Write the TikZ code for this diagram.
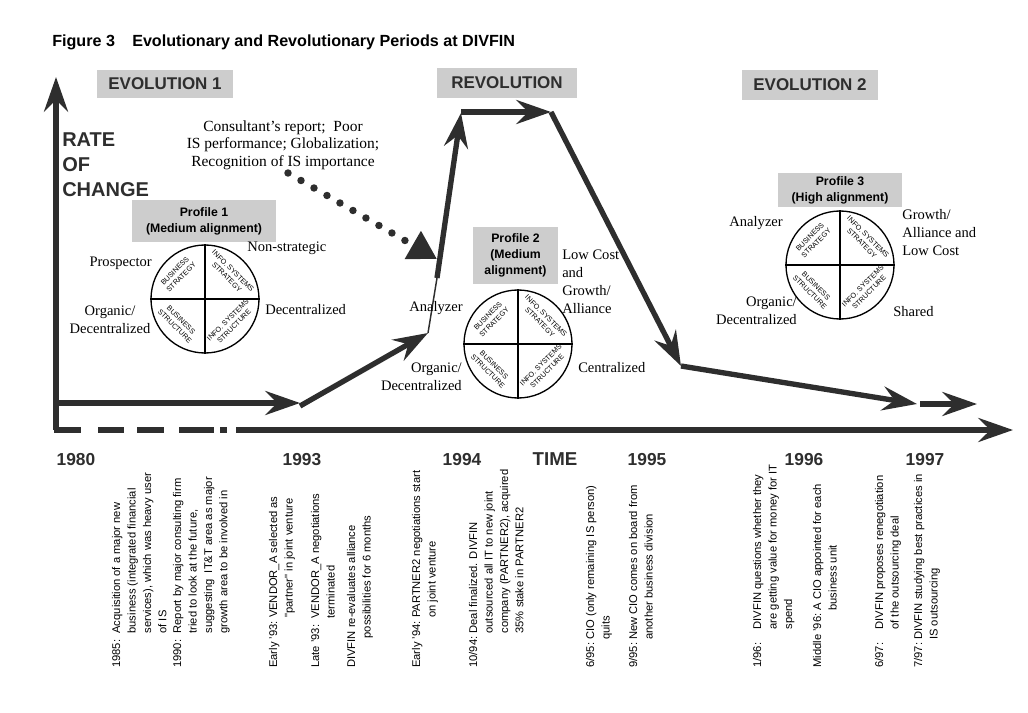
\documentclass[tikz,border=0pt]{standalone}
\usepackage{fontspec}
\setmainfont{Liberation Serif}
\newfontfamily\arial{Liberation Sans}
\usetikzlibrary{arrows.meta}
\definecolor{ink}{HTML}{2E2E2E}
\definecolor{boxgray}{HTML}{CDCDCD}
\begin{document}
\begin{tikzpicture}[x=0.75pt,y=-0.75pt,
  big/.style={draw=ink,line width=4pt,-{Stealth[length=26pt,width=18pt,inset=9pt]}},
  axisline/.style={draw=ink,line width=4pt},
  thinline/.style={draw=ink,line width=1.1pt},
  serif/.style={font=\fontsize{10.9}{13.5}\selectfont,inner sep=0pt},
  period/.style={fill=boxgray,font=\arial\bfseries\fontsize{12.75}{15}\selectfont,text=ink,inner sep=0pt},
  profbox/.style={fill=boxgray,font=\arial\bfseries\fontsize{9.2}{12}\selectfont,align=center,inner sep=0pt},
  year/.style={font=\arial\bfseries\fontsize{13}{15}\selectfont,text=ink,inner sep=0pt},
  quad/.style={font=\arial\fontsize{5.4}{6.6}\selectfont,align=center,inner sep=0pt},
  wheel/.style={circle,draw=black,line width=1pt,minimum size=81pt,inner sep=0pt},
  evt/.style={rotate=90,anchor=north west,inner sep=0pt,font=\arial\fontsize{8.4}{11.6}\selectfont},
  bigsans/.style={font=\arial\bfseries\fontsize{15}{18.8}\selectfont,text=ink,align=left,inner sep=0pt}
]
\useasboundingbox (0,0) rectangle (1028,713);

% title
\node[font=\arial\bfseries\fontsize{12.1}{13}\selectfont,anchor=west,inner sep=0] (fig) at (52,42) {Figure 3};
\node[font=\arial\bfseries\fontsize{12.1}{13}\selectfont,anchor=west,inner sep=0] (title) at (132,42) {Evolutionary and Revolutionary Periods at DIVFIN};

% period boxes
\node[period,minimum width=102pt,minimum height=21pt] (ev1) at (165,84) {EVOLUTION 1};
\node[period,minimum width=105pt,minimum height=22.5pt] (rev) at (507,83) {REVOLUTION};
\node[period,minimum width=102pt,minimum height=22.5pt] (ev2) at (810,85) {EVOLUTION 2};

% axis label
\node[bigsans,anchor=north west] (rate) at (62,132) {RATE\\OF\\CHANGE};

% axes
\coordinate (o) at (56,430);
\coordinate (ytop) at (56,77);
\coordinate (xd) at (236,430);
\coordinate (xtip) at (1013,430);
\draw[big] (o) -- (ytop);
\draw[axisline,dash pattern=on 20.25pt off 12.75pt on 19.5pt off 9.75pt on 20.25pt off 11.25pt on 26.25pt off 4.5pt on 5.25pt off 100pt] ([xshift=-1.5pt]o) -- (xd);
\draw[big] (xd) -- (xtip);

% main path
\coordinate (a0) at (56,403);
\coordinate (a1) at (300,403);
\coordinate (a2) at (300,406);
\coordinate (a3) at (428,333);
\coordinate (a4) at (437,278);
\coordinate (a5) at (461,113);
\coordinate (a6) at (461,112);
\coordinate (a7) at (551,112);
\coordinate (a8) at (681,366);
\coordinate (a9) at (917,404);
\coordinate (a10) at (920,404);
\coordinate (a11) at (977,404);
\draw[big] (a0) -- (a1);
\draw[big] (a2) -- (a3);
\draw[thinline] (a3) -- (a4);
\draw[big] (a4) -- (a5);
\draw[big] (a6) -- (a7);
\draw[big] (a7) -- (a8);
\draw[big] (a8) -- (a9);
\draw[big] (a10) -- (a11);

% consultant text and dotted arrow
\node[font=\fontsize{11.6}{13.1}\selectfont,align=center,inner sep=0] (cons) at (283,145) {Consultant’s report;\ \ Poor\\IS performance; Globalization;\\Recognition of IS importance};
\coordinate (d0) at (288,173);
\coordinate (d1) at (437,259);
\draw[draw=ink,line width=5.6pt,line cap=round,dash pattern=on 0pt off 11.25pt,-{Triangle[length=21pt,width=23pt]}] (d0) -- (d1);

% profile 1
\node[profbox,minimum width=108pt,minimum height=31.5pt] (pb1) at (204,221) {Profile 1\\(Medium alignment)};
\node[wheel] (w1) at (205,299) {};
\draw[line width=1pt] (w1.north) -- (w1.south);
\draw[line width=1pt] (w1.west) -- (w1.east);
\node[quad,rotate=45] (w1a) at ([shift={(-27,-25)}]w1.center) {BUSINESS\\STRATEGY};
\node[quad,rotate=-45] (w1b) at ([shift={(25,-25)}]w1.center) {INFO. SYSTEMS\\STRATEGY};
\node[quad,rotate=-45] (w1c) at ([shift={(-27,24)}]w1.center) {BUSINESS\\STRUCTURE};
\node[quad,rotate=45] (w1d) at ([shift={(26,24)}]w1.center) {INFO. SYSTEMS\\STRUCTURE};
\node[serif,anchor=east] (p1l1) at (152,263) {Prospector};
\node[serif,anchor=west] (p1r1) at (247,248) {Non-strategic};
\node[serif,anchor=west] (p1r2) at (265,310) {Decentralized};
\node[serif,align=center] (p1l2) at (110,320) {Organic/\\Decentralized};

% profile 2
\node[profbox,minimum width=64pt,minimum height=43pt] (pb2) at (515.5,255.5) {Profile 2\\(Medium\\alignment)};
\node[wheel] (w2) at (518,344) {};
\draw[line width=1pt] (w2.north) -- (w2.south);
\draw[line width=1pt] (w2.west) -- (w2.east);
\node[quad,rotate=45] (w2a) at ([shift={(-27,-25)}]w2.center) {BUSINESS\\STRATEGY};
\node[quad,rotate=-45] (w2b) at ([shift={(25,-25)}]w2.center) {INFO. SYSTEMS\\STRATEGY};
\node[quad,rotate=-45] (w2c) at ([shift={(-27,24)}]w2.center) {BUSINESS\\STRUCTURE};
\node[quad,rotate=45] (w2d) at ([shift={(26,24)}]w2.center) {INFO. SYSTEMS\\STRUCTURE};
\node[serif,anchor=east] (p2l1) at (463,308) {Analyzer};
\node[serif,anchor=west,align=left] (p2r1) at (562,282) {Low Cost\\and\\Growth/\\Alliance};
\node[serif,anchor=east,align=right] (p2l2) at (462,377) {Organic/\\Decentralized};
\node[serif,anchor=west] (p2r2) at (578,368) {Centralized};

% profile 3
\node[profbox,minimum width=93pt,minimum height=25.5pt] (pb3) at (840,190) {Profile 3\\(High alignment)};
\node[wheel] (w3) at (840,265) {};
\draw[line width=1pt] (w3.north) -- (w3.south);
\draw[line width=1pt] (w3.west) -- (w3.east);
\node[quad,rotate=45] (w3a) at ([shift={(-27,-25)}]w3.center) {BUSINESS\\STRATEGY};
\node[quad,rotate=-45] (w3b) at ([shift={(25,-25)}]w3.center) {INFO. SYSTEMS\\STRATEGY};
\node[quad,rotate=-45] (w3c) at ([shift={(-27,24)}]w3.center) {BUSINESS\\STRUCTURE};
\node[quad,rotate=45] (w3d) at ([shift={(26,24)}]w3.center) {INFO. SYSTEMS\\STRUCTURE};
\node[serif,anchor=east] (p3l1) at (783,223) {Analyzer};
\node[serif,anchor=west,align=left] (p3r1) at (902,233) {Growth/\\Alliance and\\Low Cost};
\node[serif,anchor=east,align=right] (p3l2) at (797,311) {Organic/\\Decentralized};
\node[serif,anchor=west] (p3r2) at (893,312) {Shared};

% years
\node[year] (y80) at (76,460) {1980};
\node[year] (y93) at (302,460) {1993};
\node[year] (y94) at (462,460) {1994};
\node[year,font=\arial\bfseries\fontsize{14}{16}\selectfont] (time) at (555,459) {TIME};
\node[year] (y95) at (647,460) {1995};
\node[year] (y96) at (804,460) {1996};
\node[year] (y97) at (925,460) {1997};

% events
\node[evt] (e1) at (109,668) {\begin{tabular}{@{}l@{\ \ }l@{}}1985:&Acquisition of a major new\\&business (integrated financial\\&services), which was heavy user\\&of IS\end{tabular}};
\node[evt] (e2) at (170,668) {\begin{tabular}{@{}l@{\ \ }l@{}}1990:&Report by major consulting firm\\&tried to look at the future,\\&suggesting\ \ IT\&T area as major\\&growth area to be involved in\end{tabular}};
\node[evt] (e3) at (266,668) {\begin{tabular}{@{}l@{\ }l@{}}Early ’93:&VENDOR\_A selected as\\&"partner" in joint venture\end{tabular}};
\node[evt] (e4) at (308,668) {\begin{tabular}{@{}l@{\ \ }l@{}}Late ’93:&VENDOR\_A negotiations\\&terminated\end{tabular}};
\node[evt] (e5) at (344,668) {\begin{tabular}{@{}l@{}}DIVFIN re-evaluates alliance\\\hspace*{22pt}possibilities for 6 months\end{tabular}};
\node[evt] (e6) at (409,668) {\begin{tabular}{@{}l@{\ }l@{}}Early ’94:&PARTNER2 negotiations start\\&on joint venture\end{tabular}};
\node[evt] (e7) at (466,668) {\begin{tabular}{@{}l@{\ }l@{}}10/94:&Deal finalized. DIVFIN\\&outsourced all IT to new joint\\&company (PARTNER2), acquired\\&35\% stake in PARTNER2\end{tabular}};
\node[evt] (e8) at (583,668) {\begin{tabular}{@{}l@{\ }l@{}}6/95:&CIO (only remaining IS person)\\&quits\end{tabular}};
\node[evt] (e9) at (626,668) {\begin{tabular}{@{}l@{\ }l@{}}9/95:&New CIO comes on board from\\&another business division\end{tabular}};
\node[evt] (e10) at (750,668) {\begin{tabular}{@{}l@{\hspace{10pt}}l@{}}1/96:&DIVFIN questions whether they\\&are getting value for money for IT\\&spend\end{tabular}};
\node[evt] (e11) at (810,668) {\begin{tabular}{@{}l@{\ }l@{}}Middle ’96:&A CIO appointed for each\\&business unit\end{tabular}};
\node[evt] (e12) at (872,668) {\begin{tabular}{@{}l@{\hspace{10pt}}l@{}}6/97:&DIVFIN proposes renegotiation\\&of the outsourcing deal\end{tabular}};
\node[evt] (e13) at (911,668) {\begin{tabular}{@{}l@{\ }l@{}}7/97:&DIVFIN studying best practices in\\&IS outsourcing\end{tabular}};
\end{tikzpicture}
\end{document}
